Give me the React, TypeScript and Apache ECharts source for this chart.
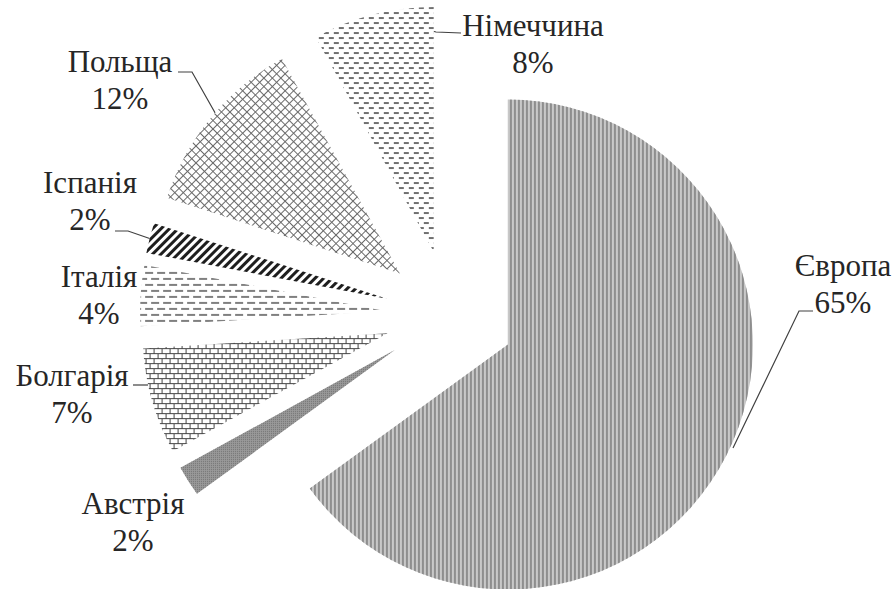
import React, { useEffect, useRef } from "react";
import * as echarts from "echarts";

// ---- data ----
const CATEGORIES = ["Європа", "Австрія", "Болгарія", "Італія", "Іспанія", "Польща", "Німеччина"];
const SHARES = [65, 2, 7, 4, 2, 12, 8];
const SHOW_LEADER = [true, false, true, false, true, true, true];

// ---- label placement (styling, px) ----
const LABEL_POS: number[][] = [
  [843, 284],
  [133, 522],
  [72, 394],
  [99, 295],
  [90, 201],
  [120, 80],
  [533, 44],
];
const LEADER_PTS: (number[][] | null)[] = [
  [[813, 311], [799, 311], [733, 448]],
  null,
  [[133, 385], [140, 385], [148, 385]],
  null,
  [[115, 231], [128, 231], [154, 240]],
  [[178, 72], [192, 72], [218, 118]],
  [[461, 33], [436, 32], [378, 17]],
];

const SERIF = "Liberation Serif";

// ---- fills / patterns (styling) ----
const BASE_COLORS = ["#c8c8c8", "#9a9a9a", "#ffffff", "#ffffff", "#ffffff", "#ffffff", "#ffffff"];
const DECALS: any[] = [
  { symbol: "rect", symbolSize: 1, color: "#8e8e8e", dashArrayX: [2, 2], dashArrayY: [10, 0] },
  { symbol: "rect", symbolSize: 1, color: "#707070", dashArrayX: [1, 1], dashArrayY: [1, 1] },
  {
    symbol: "rect", symbolSize: 1, color: "#444444",
    dashArrayX: [[1, 0], [1, 7], [1, 0], [0, 4, 1, 3]],
    dashArrayY: [1, 0, 4, 0, 1, 0, 4, 0],
  },
  { symbol: "rect", symbolSize: 1, color: "#808080", dashArrayX: [[8, 4], [2, 4, 6, 0]], dashArrayY: [2, 4] },
  { symbol: "rect", symbolSize: 1, color: "#1e1e1e", dashArrayX: [3, 3], dashArrayY: [10, 0], rotation: Math.PI / 4 },
  {
    symbol: "rect", symbolSize: 1, color: "#6a6a6a",
    dashArrayX: [[6, 0], [1, 5]], dashArrayY: [1, 0, 5, 0], rotation: Math.PI / 4,
  },
  { symbol: "rect", symbolSize: 1, color: "#707070", dashArrayX: [[5, 5], [0, 5, 5, 0]], dashArrayY: [2, 3] },
];

export default function App() {
  const ref = useRef<HTMLDivElement>(null);

  useEffect(() => {
    if (!ref.current) return;
    const chart = echarts.init(ref.current, undefined, { renderer: "svg" });

    const sliceData = CATEGORIES.map((name, i) => {
      const itemStyle = { color: BASE_COLORS[i], decal: DECALS[i], borderWidth: 0 };
      return {
        name,
        value: SHARES[i],
        selected: true,
        itemStyle,
        select: { itemStyle },
      };
    });

    const labelData = CATEGORIES.map((name, i) => ({
      name,
      value: SHARES[i],
      labelLine: { show: SHOW_LEADER[i] },
    }));

    const common = {
      type: "pie",
      center: [450, 315],
      radius: 245,
      startAngle: 90,
      clockwise: true,
      avoidLabelOverlap: false,
      emphasis: { disabled: true },
      animation: false,
    };

    chart.setOption({
      animation: false,
      backgroundColor: "#ffffff",
      textStyle: { fontFamily: SERIF },
      series: [
        {
          ...common,
          selectedMode: "multiple",
          selectedOffset: 65,
          label: { show: false },
          labelLine: { show: false },
          data: sliceData,
        },
        {
          ...common,
          silent: true,
          itemStyle: { color: "rgba(0,0,0,0)", borderWidth: 0 },
          label: {
            show: true,
            position: "outside",
            formatter: "{b}\n{c}%",
            fontFamily: SERIF,
            fontSize: 31,
            lineHeight: 37,
            color: "#262626",
            align: "center",
          },
          labelLine: {
            show: true,
            lineStyle: { color: "#404040", width: 1.2 },
          },
          labelLayout: (params: any) => {
            const i = params.dataIndex;
            const out: any = {
              x: LABEL_POS[i][0],
              y: LABEL_POS[i][1],
              align: "center",
              verticalAlign: "middle",
            };
            if (LEADER_PTS[i]) out.labelLinePoints = LEADER_PTS[i];
            return out;
          },
          data: labelData,
        },
      ],
    });

    return () => chart.dispose();
  }, []);

  return (
    <div
      ref={ref}
      style={{ position: "absolute", left: 0, top: 0, width: 895, height: 589, background: "#fff" }}
    />
  );
}
